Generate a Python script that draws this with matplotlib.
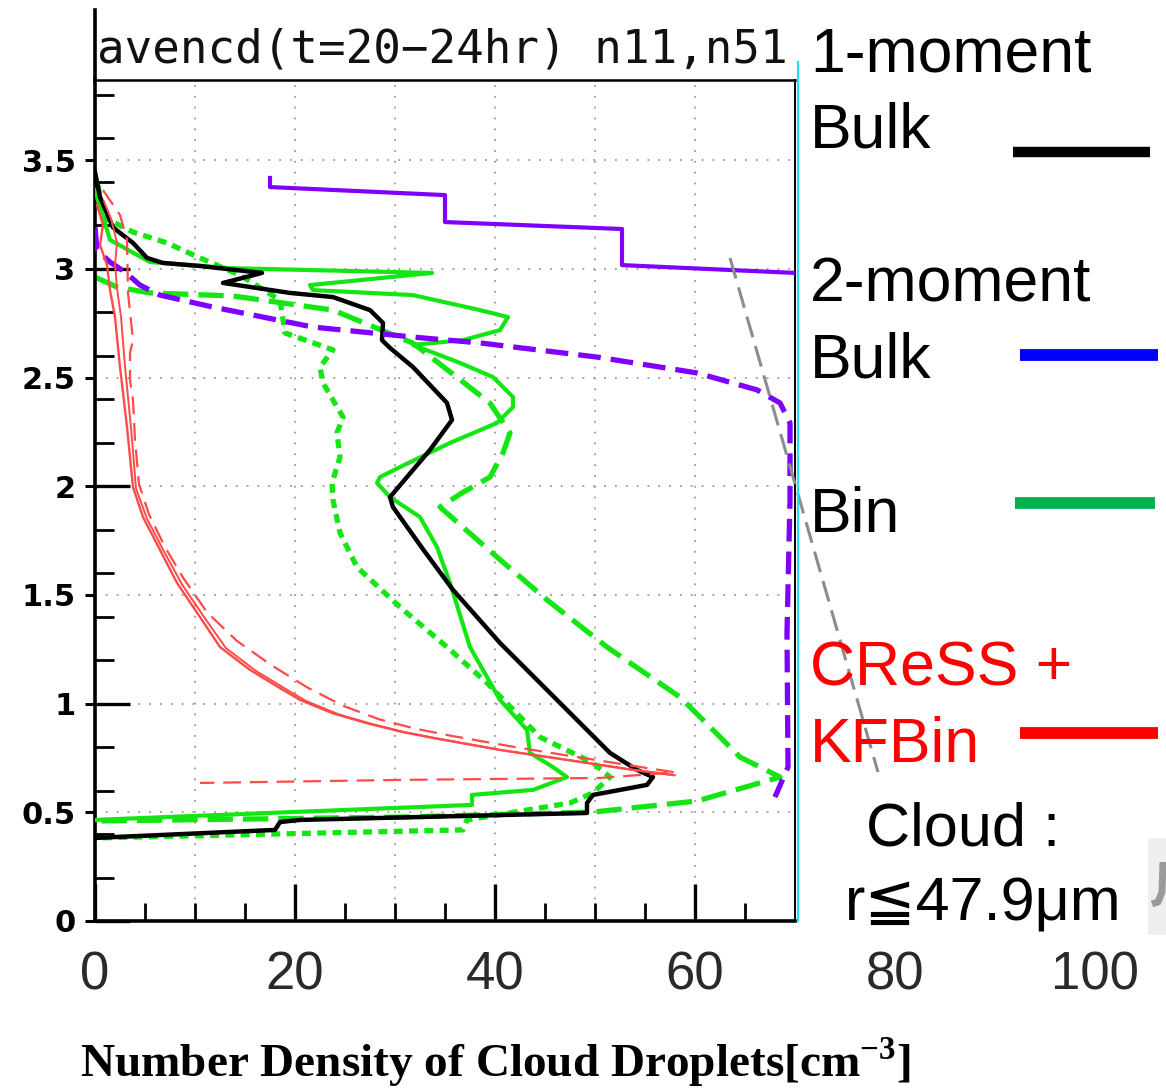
import matplotlib
matplotlib.use('Agg')
import matplotlib.pyplot as plt
from matplotlib.lines import Line2D
from matplotlib.patches import Rectangle

W, H, DPI = 1166, 1088, 100
plt.rcParams['mathtext.fontset'] = 'custom'
plt.rcParams['mathtext.rm'] = 'Liberation Serif'
plt.rcParams['mathtext.bf'] = 'Liberation Serif:bold'

# ---- vertical profiles: number density [cm^-3] vs height [km] ----
# 1-moment bulk (black solid)
bulk1_x = [0.0, 18.0, 18.5, 20.5, 49.2, 49.2, 49.8, 55.2, 55.8, 54.2, 51.5, 49.5,
           44.5, 40.5, 35.8, 32.8, 29.8, 29.5, 33.5, 35.7, 35.2, 31.8, 29.5, 28.7,
           28.8, 27.5, 23.8, 19.5, 12.8, 16.7, 10.5, 6.8, 5.2, 3.8, 1.8, 0.5, 0.0]
bulk1_y = [0.382, 0.419, 0.455, 0.465, 0.497, 0.543, 0.580, 0.626, 0.662, 0.695, 0.773, 0.865,
           1.095, 1.279, 1.523, 1.710, 1.904, 1.950, 2.167, 2.305, 2.383, 2.548, 2.636, 2.672,
           2.751, 2.810, 2.870, 2.889, 2.935, 2.981, 3.013, 3.027, 3.050, 3.119, 3.190, 3.330, 3.445]

# 2-moment bulk (purple solid, stepped)
bulk2_x = [17.5, 17.5, 35.0, 35.0, 52.7, 52.7, 70.0]
bulk2_y = [3.418, 3.376, 3.339, 3.215, 3.183, 3.017, 2.981]

# 2-moment bulk (purple dashed)
bulk2d_x = [0.0, 0.2, 1.5, 3.0, 4.5, 6.5, 11.8, 21.8, 31.8, 38.5, 50.2, 60.2,
            66.2, 68.5, 69.5, 69.5, 69.2, 69.3, 68.0]
bulk2d_y = [3.190, 3.087, 3.031, 2.985, 2.925, 2.879, 2.824, 2.732, 2.686, 2.659, 2.594, 2.521,
            2.443, 2.383, 2.291, 1.937, 1.325, 0.708, 0.570]

# Bin (green solid)
bin_x = [0.0, 1.5, 5.5, 13.5, 33.7, 21.5, 21.8, 31.8, 38.5, 41.3, 40.5, 36.8, 31.8,
         36.5, 39.8, 41.8, 41.8, 40.2, 35.5, 30.5, 28.5, 28.2, 29.5, 32.5, 34.2, 35.5,
         37.5, 40.5, 43.2, 43.5, 45.8, 47.2, 43.8, 37.7, 37.7, 0.0]
bin_y = [3.362, 3.133, 3.031, 3.003, 2.981, 2.925, 2.902, 2.879, 2.810, 2.778, 2.718, 2.672, 2.650,
         2.567, 2.502, 2.410, 2.364, 2.291, 2.199, 2.088, 2.042, 2.015, 1.950, 1.858, 1.720, 1.555,
         1.260, 1.017, 0.879, 0.773, 0.708, 0.662, 0.603, 0.580, 0.534, 0.465]

# Bin (green dashed)
bind_x = [0.0, 2.2, 5.5, 13.8, 23.8, 31.8, 36.2, 39.5, 41.5, 40.8, 39.5, 36.8, 34.5,
          40.2, 45.2, 51.2, 58.5, 61.8, 64.5, 68.5, 60.2, 49.8, 30.5, 0.0]
bind_y = [2.962, 2.916, 2.889, 2.875, 2.810, 2.658, 2.501, 2.382, 2.245, 2.153, 2.042, 1.972, 1.904,
          1.674, 1.477, 1.260, 1.030, 0.879, 0.754, 0.662, 0.552, 0.501, 0.478, 0.460]

# Bin (green dotted)
bint_x = [0.3, 0.8, 3.8, 7.2, 10.5, 14.5, 18.5, 19.0, 23.8, 22.5, 22.8, 24.8, 24.2,
          24.5, 23.7, 23.8, 24.5, 26.2, 30.5, 35.2, 39.2, 44.5, 49.8, 51.5, 49.8,
          47.5, 37.2, 36.8, 0.0]
bint_y = [3.385, 3.238, 3.169, 3.119, 3.050, 2.971, 2.856, 2.705, 2.627, 2.548, 2.475, 2.318, 2.245,
          2.134, 2.015, 1.937, 1.785, 1.628, 1.444, 1.260, 1.095, 0.846, 0.727, 0.662, 0.589,
          0.543, 0.465, 0.419, 0.382]

# CReSS + KFBin (red solid, two members)
kf1_x = [0.2, 0.8, 0.5, 1.2, 1.5, 2.0, 2.5, 3.2, 3.8, 4.8, 6.5, 8.2, 10.5, 12.5,
         15.5, 18.8, 20.5, 23.8, 27.2, 30.5, 33.8, 40.5, 47.2, 53.8, 57.8]
kf1_y = [3.294, 3.202, 3.110, 3.018, 2.902, 2.778, 2.548, 2.272, 1.996, 1.858, 1.707, 1.555, 1.398, 1.260,
         1.155, 1.063, 1.017, 0.955, 0.910, 0.872, 0.842, 0.787, 0.741, 0.695, 0.672]
kf2_x = [0.9, 1.6, 2.2, 2.0, 2.2, 2.6, 3.0, 3.6, 4.1, 5.2, 6.9, 8.7, 11.0, 13.1,
         16.1, 19.4, 21.1, 24.4, 27.8, 31.1, 34.4, 41.0, 47.7, 54.3, 58.0]
kf2_y = [3.310, 3.230, 3.120, 3.020, 2.910, 2.780, 2.550, 2.270, 1.990, 1.850, 1.700, 1.548, 1.392, 1.255,
         1.150, 1.058, 1.012, 0.950, 0.905, 0.867, 0.838, 0.783, 0.738, 0.692, 0.670]

# CReSS + KFBin (red dashed)
kfd_x = [0.8, 2.5, 3.2, 3.3, 3.8, 3.5, 3.5, 3.8, 4.0, 4.4, 5.4, 7.0, 8.8, 11.2,
         14.2, 17.6, 21.2, 24.8, 28.4, 32.0, 35.6, 42.0, 48.5, 54.6, 58.0, 50.5, 30.5, 10.5]
kfd_y = [3.362, 3.248, 3.133, 2.889, 2.672, 2.613, 2.489, 2.397, 2.213, 2.010, 1.870, 1.720, 1.580, 1.420,
         1.288, 1.178, 1.075, 0.990, 0.928, 0.885, 0.852, 0.800, 0.752, 0.708, 0.684, 0.658, 0.649, 0.635]

# reference line (gray dashed)
ref_x = [63.5, 78.3]
ref_y = [3.05, 0.685]

xtick_vals = [0, 20, 40, 60, 80, 100]
ytick_vals = [0, 0.5, 1, 1.5, 2, 2.5, 3, 3.5]
ytick_labels = ['0', '0.5', '1', '1.5', '2', '2.5', '3', '3.5']

legend_names = [['1-moment', 'Bulk'], ['2-moment', 'Bulk'], ['Bin'], ['CReSS +', 'KFBin']]
legend_text_colors = ['black', 'black', 'black', '#ff0000']
legend_line_colors = ['black', '#0000ff', '#00b050', '#ff0000']

GREEN = '#14e614'
PURPLE = '#8000ff'
RED = '#ff4a4a'


def fx(px):
    return px / W


def fy(py):
    return 1 - py / H


fig = plt.figure(figsize=(W / DPI, H / DPI), dpi=DPI)
fig.patch.set_facecolor('white')

y_top = 841 / 217.4
ax = fig.add_axes([fx(95), fy(921), 700 / W, 841 / H])
ax.set_xlim(0, 70)
ax.set_ylim(0, y_top)

# dotted grid
for gx in range(10, 70, 10):
    ax.plot([gx, gx], [0, y_top], color='#9a9a9a', lw=1.3, ls=(0, (1, 5)), zorder=0)
for gy in ytick_vals[1:]:
    ax.plot([0, 70], [gy, gy], color='#9a9a9a', lw=1.3, ls=(0, (1, 5)), zorder=0)

# profiles
ax.plot(bint_x, bint_y, color=GREEN, lw=3.8, ls=(0, (1.7, 1.2)), zorder=2)
ax.plot(bind_x, bind_y, color=GREEN, lw=3.8, ls=(0, (4.8, 1.9)), zorder=2)
ax.plot(bin_x, bin_y, color=GREEN, lw=3.0, zorder=3)
ax.plot(bulk1_x, bulk1_y, color='black', lw=3.2, zorder=4)
ax.plot(bulk2_x, bulk2_y, color=PURPLE, lw=3.0, zorder=4)
ax.plot(bulk2d_x, bulk2d_y, color=PURPLE, lw=3.8, ls=(0, (4.3, 1.9)), zorder=4)
ax.plot(kf1_x, kf1_y, color=RED, lw=1.7, zorder=5)
ax.plot(kf2_x, kf2_y, color=RED, lw=1.4, zorder=5)
ax.plot(kfd_x, kfd_y, color=RED, lw=1.6, ls=(0, (8, 4)), zorder=5)
ax.plot(ref_x, ref_y, color='#8c8c8c', lw=2.2, ls=(0, (7, 3)), zorder=5, clip_on=False)

# frame
for side in ['left', 'bottom']:
    ax.spines[side].set_linewidth(2.6)
ax.spines['top'].set_linewidth(1.8)
ax.spines['right'].set_linewidth(1.4)
ax.plot([0, 0], [y_top, 4.19], color='black', lw=2.6, clip_on=False, zorder=6)
ax.plot([70.25, 70.25], [0, 3.95], color='#22e0f0', lw=1.6, clip_on=False, zorder=6)

# ticks
ax.set_xticks([0, 20, 40, 60])
ax.set_xticks(range(0, 70, 5), minor=True)
ax.tick_params(axis='x', which='major', direction='in', length=27, width=2.4,
               labelbottom=False)
ax.tick_params(axis='x', which='minor', direction='in', length=13, width=2.0)
ax.set_yticks(ytick_vals)
ax.set_yticklabels(ytick_labels)
ax.set_yticks([v / 10 for v in range(2, 39, 2)], minor=True)
ax.tick_params(axis='y', which='major', direction='out', length=7, width=2.2, pad=7,
               labelsize=22)
ax.tick_params(axis='y', which='minor', direction='in', length=14, width=2.0)
for lab in ax.get_yticklabels():
    lab.set_fontweight('bold')
    lab.set_family('DejaVu Sans')

sec = ax.secondary_yaxis('left')
sec.set_yticks([0, 1, 2, 3])
sec.tick_params(direction='in', length=25, width=2.4, labelleft=False)
sec.spines['left'].set_visible(False)

for v in xtick_vals:
    ax.text(v, -0.25, str(v), ha='center', va='center', fontsize=38,
            family=['Liberation Sans', 'DejaVu Sans'], color='#2a2a2a', clip_on=False)

# header
ax.text(0.2, 3.95, 'avencd(t=20\u221224hr) n11,n51', ha='left', va='baseline',
        fontsize=33, family='DejaVu Sans Mono', color='#111111', clip_on=False)

# x-axis title
fig.text(fx(495), fy(1062), r'Number Density of Cloud Droplets[cm$^{\mathbf{-3}}$]',
         ha='center', va='center', fontsize=34, fontweight='bold',
         family='Liberation Serif')

# legend block
sans = ['Liberation Sans', 'DejaVu Sans']
text_rows = [[72, 148], [302, 378], [532], [685, 762]]
line_rows = [(1013, 1150, 152, 7.5), (1020, 1158, 355, 8.5), (1015, 1155, 503, 8.5),
             (1020, 1158, 733, 8.5)]
for names, rows, tcol, (x0, x1, ly, lw), lcol in zip(legend_names, text_rows, legend_text_colors,
                                                       line_rows, legend_line_colors):
    for name, by in zip(names, rows):
        fig.text(fx(810), fy(by), name, ha='left', va='baseline', fontsize=45,
                 family=sans, color=tcol)
    fig.add_artist(Line2D([fx(x0), fx(x1)], [fy(ly), fy(ly)], color=lcol, lw=lw,
                          solid_capstyle='butt'))

fig.text(fx(866), fy(845), 'Cloud :', ha='left', va='baseline', fontsize=44, family=sans)
fig.text(fx(845), fy(920), 'r\u226647.9\u03bcm', ha='left', va='baseline', fontsize=44,
         family=sans)

# cropped graphic at the right edge
fig.add_artist(Rectangle((fx(1148), fy(935)), fx(1166) - fx(1148), fy(838) - fy(935),
                         transform=fig.transFigure, facecolor='#efefef', edgecolor='none'))
fig.add_artist(Line2D([fx(1163), fx(1162), fx(1158), fx(1152)],
                      [fy(862), fy(892), fy(902), fy(904)],
                      color='#9a9a9a', lw=5, solid_capstyle='butt'))

fig.savefig('out.png', dpi=DPI, facecolor='white')
